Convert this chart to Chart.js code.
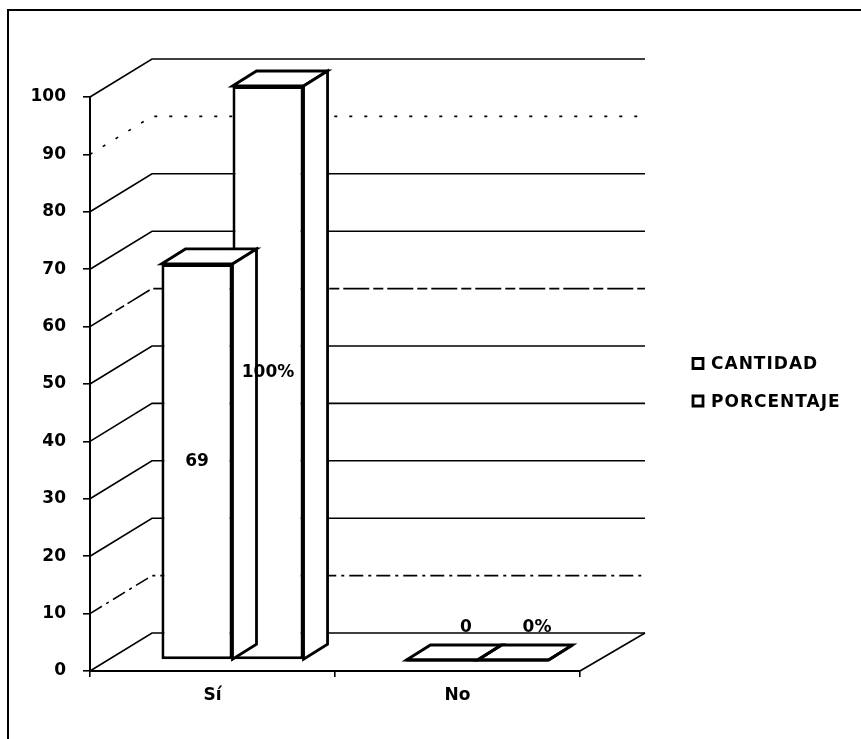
<!DOCTYPE html>
<html>
<head>
<meta charset="utf-8">
<script src="https://cdn.jsdelivr.net/npm/chart.js@4/dist/chart.umd.min.js"></script>
<style>
  html, body { margin: 0; padding: 0; background: #fff; }
  canvas { display: block; }
</style>
</head>
<body>
<canvas id="c" width="861" height="739"></canvas>
<script>
// Chart data
const categories = ['Sí', 'No'];
const seriesNames = ['CANTIDAD', 'PORCENTAJE'];
const cantidad = [69, 0];
const porcentaje = [100, 0];
const yTicks = [0, 10, 20, 30, 40, 50, 60, 70, 80, 90, 100];

const FONT = '"DejaVu Sans", sans-serif';

// 3D box geometry (pixels)
const WALL_DX = 62, WALL_DY = -38;   // depth of the floor / side wall
const BAR_SHIFT_X = 20, BAR_SHIFT_Y = -11; // bars sit a little inside the box
const BAR_DX = 24, BAR_DY = -15;     // depth of each bar

// dash patterns for the back-wall lines, keyed by tick value
const wallDash = { 90: [3, 12], 60: [26, 4, 10, 4], 10: [14, 5, 3, 5] };

const box3d = {
  id: 'box3d',
  beforeDraw(chart) {
    const ctx = chart.ctx;
    ctx.save();
    ctx.fillStyle = '#fff';
    ctx.fillRect(0, 0, chart.width, chart.height);
    // outer frame
    ctx.strokeStyle = '#000';
    ctx.lineWidth = 2;
    ctx.strokeRect(8, 10, chart.width + 20, chart.height + 20);
    ctx.restore();
  },
  beforeDatasetsDraw(chart) {
    const ctx = chart.ctx;
    const a = chart.chartArea;
    const y = chart.scales.y;
    ctx.save();
    ctx.strokeStyle = '#000';
    ctx.lineWidth = 1.6;
    yTicks.forEach(v => {
      const py = y.getPixelForValue(v);
      ctx.setLineDash(wallDash[v] || []);
      ctx.beginPath();
      ctx.moveTo(a.left, py);
      ctx.lineTo(a.left + WALL_DX, py + WALL_DY);
      ctx.lineTo(a.right + WALL_DX + 3, py + WALL_DY);
      ctx.stroke();
    });
    // right edge of the floor
    ctx.setLineDash([]);
    ctx.beginPath();
    ctx.moveTo(a.right, a.bottom);
    ctx.lineTo(a.right + WALL_DX + 3, a.bottom + WALL_DY);
    ctx.stroke();
    ctx.restore();
  },
  beforeDatasetDraw(chart) {
    chart.ctx.save();
    chart.ctx.translate(BAR_SHIFT_X, BAR_SHIFT_Y);
  },
  afterDatasetDraw(chart, args) {
    const ctx = chart.ctx;
    ctx.fillStyle = '#fff';
    ctx.strokeStyle = '#000';
    ctx.lineWidth = 2.8;
    ctx.lineJoin = 'miter';
    args.meta.data.forEach(el => {
      const p = el.getProps(['x', 'y', 'base', 'width'], true);
      const l = p.x - p.width / 2, r = p.x + p.width / 2;
      const t = Math.min(p.y, p.base), b = Math.max(p.y, p.base);
      // top face
      ctx.beginPath();
      ctx.moveTo(l, t);
      ctx.lineTo(l + BAR_DX, t + BAR_DY);
      ctx.lineTo(r + BAR_DX, t + BAR_DY);
      ctx.lineTo(r, t);
      ctx.closePath();
      ctx.fill();
      ctx.stroke();
      // right side face
      ctx.beginPath();
      ctx.moveTo(r, t);
      ctx.lineTo(r + BAR_DX, t + BAR_DY);
      ctx.lineTo(r + BAR_DX, b + BAR_DY);
      ctx.lineTo(r, b);
      ctx.closePath();
      ctx.fill();
      ctx.stroke();
      if (b - t < 1) {
        ctx.beginPath();
        ctx.moveTo(l, b);
        ctx.lineTo(r, b);
        ctx.stroke();
      }
    });
    ctx.restore();
  },
  afterDatasetsDraw(chart) {
    const ctx = chart.ctx;
    ctx.save();
    ctx.fillStyle = '#000';
    ctx.font = 'bold 17px ' + FONT;
    ctx.textAlign = 'center';
    ctx.textBaseline = 'middle';
    chart.data.datasets.forEach((ds, i) => {
      const meta = chart.getDatasetMeta(i);
      meta.data.forEach((el, j) => {
        const v = ds.data[j];
        const text = i === 0 ? String(v) : v + '%';
        const p = el.getProps(['x', 'y', 'base'], true);
        let tx, ty;
        if (v > 0) {
          tx = p.x + BAR_SHIFT_X;
          ty = (p.y + p.base) / 2 + BAR_SHIFT_Y;
        } else {
          tx = p.x + BAR_SHIFT_X + BAR_DX;
          ty = p.base + BAR_SHIFT_Y + BAR_DY - 17;
        }
        ctx.fillText(text, tx, ty);
      });
    });
    ctx.restore();
  },
  afterDraw(chart) {
    // legend
    const ctx = chart.ctx;
    ctx.save();
    ctx.font = 'bold 17px ' + FONT;
    ctx.textBaseline = 'middle';
    ctx.textAlign = 'left';
    try { ctx.letterSpacing = '1px'; } catch (e) {}
    chart.data.datasets.forEach((ds, i) => {
      const cy = 364 + i * 37.5;
      ctx.fillStyle = '#fff';
      ctx.strokeStyle = '#000';
      ctx.lineWidth = 2.8;
      ctx.beginPath();
      ctx.rect(693, cy - 5.5, 10, 10);
      ctx.fill();
      ctx.stroke();
      ctx.fillStyle = '#000';
      ctx.fillText(ds.label, 711, cy + 1);
    });
    ctx.restore();
  }
};

const barStyle = {
  backgroundColor: '#fff',
  borderColor: '#000',
  borderWidth: 3,
  borderSkipped: false,
  categoryPercentage: 0.58,
  barPercentage: 1,
  clip: false
};

new Chart(document.getElementById('c'), {
  type: 'bar',
  data: {
    labels: categories,
    datasets: [
      Object.assign({ label: seriesNames[0], data: cantidad }, barStyle),
      Object.assign({ label: seriesNames[1], data: porcentaje }, barStyle)
    ]
  },
  options: {
    responsive: false,
    animation: false,
    layout: { padding: { top: 97, right: 281, bottom: 0, left: 0 } },
    scales: {
      x: {
        grid: { display: true, drawOnChartArea: false, drawTicks: true, tickLength: 6, color: '#000', lineWidth: 1.6, offset: true },
        border: { display: true, color: '#000', width: 2 },
        ticks: { color: '#000', font: { family: FONT, size: 17, weight: 'bold' }, padding: 8 },
        afterFit(s) { s.height = 68; }
      },
      y: {
        min: 0,
        max: 100,
        afterBuildTicks(s) { s.ticks = yTicks.map(v => ({ value: v })); },
        grid: { drawOnChartArea: false, drawTicks: true, tickLength: 7, color: '#000', lineWidth: 1.6 },
        border: { display: true, color: '#000', width: 2 },
        ticks: { color: '#000', font: { family: FONT, size: 17, weight: 'bold' }, padding: 17 },
        afterFit(s) { s.width = 90; }
      }
    },
    plugins: { legend: { display: false }, tooltip: { enabled: false } }
  },
  plugins: [box3d]
});
</script>
</body>
</html>
